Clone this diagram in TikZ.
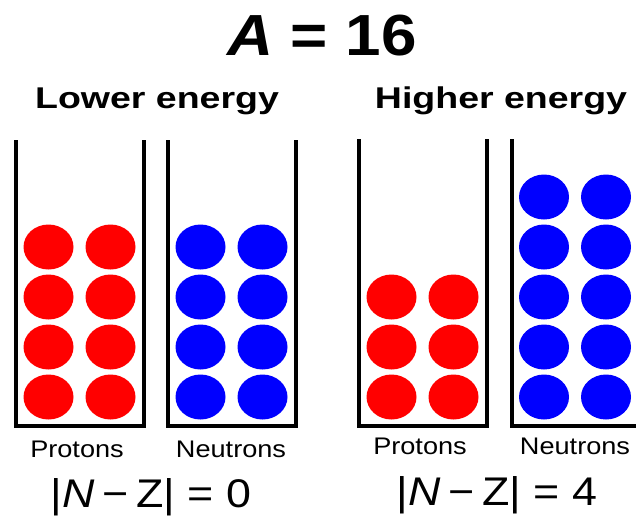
\documentclass[tikz,border=0pt]{standalone}
\usepackage{fontspec}
\setmainfont{Liberation Sans}
\usetikzlibrary{shapes.geometric}
\begin{document}
\begin{tikzpicture}[x=1pt,y=-1pt,
  ball/.style={ellipse, fill=#1, draw=none, minimum width=50pt, minimum height=45pt, inner sep=0pt},
  wall/.style={line width=3.5pt, line join=miter, draw=black},
  lbl/.style={anchor=base, inner sep=0pt},
  head/.style={lbl, font=\bfseries\fontsize{30}{32}\selectfont},
  part/.style={lbl, font=\fontsize{24}{26}\selectfont},
  diff/.style={lbl, font=\fontsize{40}{42}\selectfont}]
\useasboundingbox (0,0) rectangle (636,515);
\clip (0,0) rectangle (636,515);
% containers
\draw[wall] (16,140) -- (16,426) -- (144,426) -- (144,140);
\draw[wall] (168,140) -- (168,426) -- (296,426) -- (296,140);
\draw[wall] (359,139) -- (359,426) -- (487,426) -- (487,139);
\draw[wall] (512,139) -- (512,426) -- (642,426) -- (642,139);
% balls
\foreach \r/\y in {1/397,2/347,3/297,4/247}{
  \node[ball=red] (pa\r) at (48.5,\y) {};
  \node[ball=red] (pb\r) at (110.5,\y) {};
  \node[ball=blue] (na\r) at (200.5,\y) {};
  \node[ball=blue] (nb\r) at (262.5,\y) {};
}
\foreach \r/\y in {1/397,2/347,3/297}{
  \node[ball=red] (qa\r) at (391.5,\y) {};
  \node[ball=red] (qb\r) at (453.5,\y) {};
}
\foreach \r/\y in {1/397,2/347,3/297,4/247,5/197}{
  \node[ball=blue] (ma\r) at (544,\y) {};
  \node[ball=blue] (mb\r) at (606,\y) {};
}
% texts
\node[lbl, font=\bfseries\fontsize{58}{60}\selectfont] (title) at (322,55) {\scalebox{1.1}[1]{\textit{A} = 16}};
\node[head] (low) at (157,108) {\scalebox{1.25}[1]{Lower energy}};
\node[head] (high) at (501,108) {\scalebox{1.25}[1]{Higher energy}};
\node[part] (p1) at (77,457) {\scalebox{1.13}[1]{Protons}};
\node[part] (n1) at (231,457) {\scalebox{1.13}[1]{Neutrons}};
\node[part] (p2) at (420,454) {\scalebox{1.13}[1]{Protons}};
\node[part] (n2) at (575,454) {\scalebox{1.13}[1]{Neutrons}};
\node[diff] (d1) at (151,507) {\scalebox{1.12}[1]{|\textit{N}\,−\,Z| = 0}};
\node[diff] (d2) at (497,505) {\scalebox{1.12}[1]{|\textit{N}\,−\,Z| = 4}};
\end{tikzpicture}
\end{document}
